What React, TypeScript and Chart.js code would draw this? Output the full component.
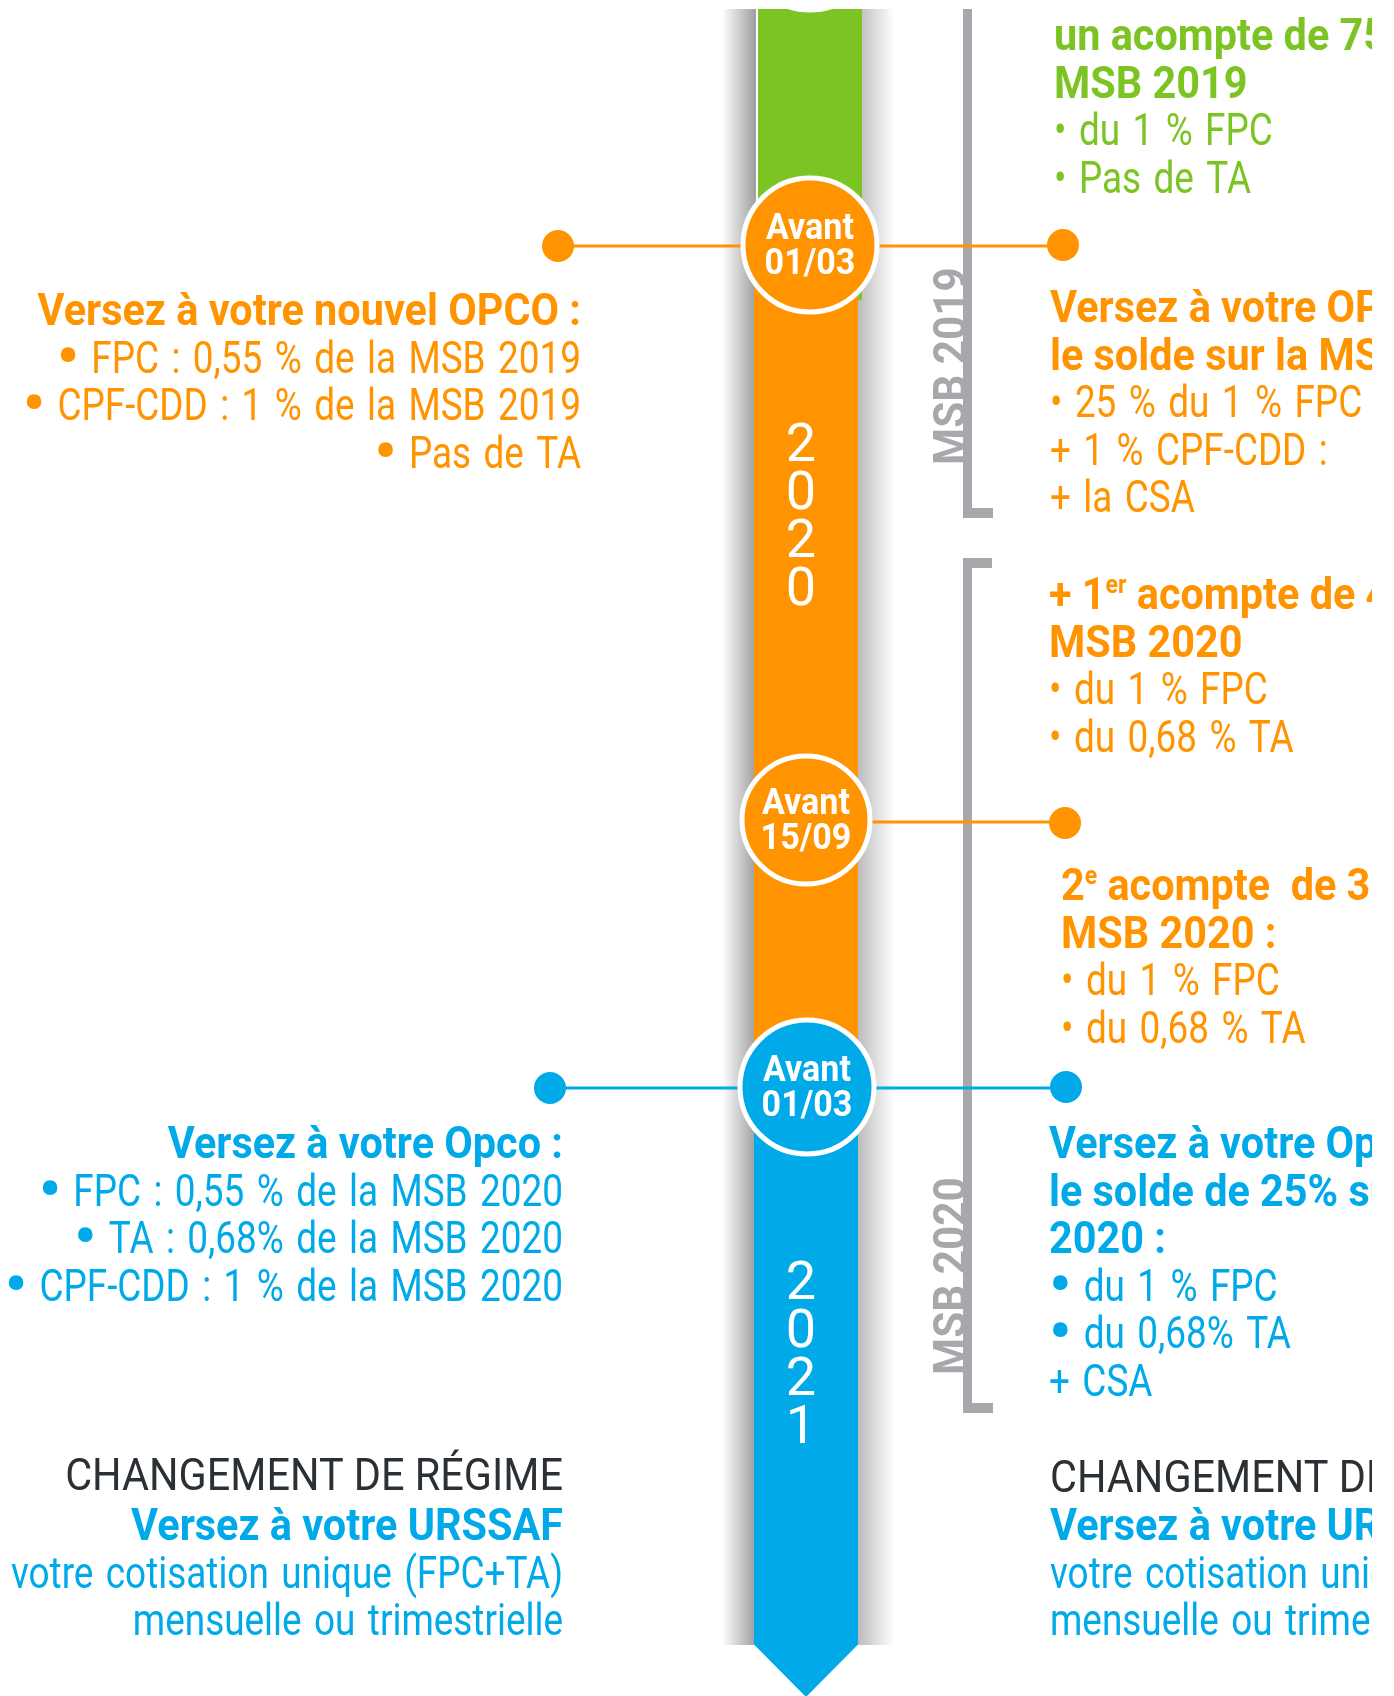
import React, { useEffect, useRef } from "react";
import { Chart, registerables } from "chart.js";

Chart.register(...registerables);

const W = 1394;
const H = 1696;

const GREEN = "#7CC423";
const ORANGE = "#FF9300";
const BLUE = "#00AAE9";
const GREY = "#A8A8AC";
const DARK = "#2B3035";

// Timeline markers (dates)
const markerTop = ["Avant", "Avant", "Avant"];
const markerBottom = ["01/03", "15/09", "01/03"];
const markerX = [810, 806, 807];
const markerY = [245, 820, 1087];
const markerColors = [ORANGE, ORANGE, BLUE];
const markerRadius = [67, 64, 67];

// End dots of the connectors
const dotX = [558, 1063, 1065, 550, 1066];
const dotY = [246, 245, 823, 1088, 1087];
const dotColors = [ORANGE, ORANGE, ORANGE, BLUE, BLUE];

// Connector lines
const connFromX = [558, 806, 550];
const connToX = [1063, 1065, 1066];
const connY = [246, 822, 1088];
const connColors = [ORANGE, ORANGE, BLUE];

// Timeline bar segments
const segStart = [9, 245, 1087];
const segEnd = [300, 1087, 1645];
const segLeft = [758, 754, 754];
const segRight = [862, 858, 858];
const segColors = [GREEN, ORANGE, BLUE];

// Year labels on the bar
const yearLabels = ["2020", "2021"];
const yearFirstDigitY = [441, 1279];

// MSB brackets
const bracketTop = [9, 558];
const bracketBottom = [518, 1413];
const bracketTopFoot = [false, true];
const bracketLabels = ["MSB 2019", "MSB 2020"];
const bracketLabelY = [366, 1276];

// Text blocks: [text, style] style: r regular, c regular caps, b bold, s superscript, B big bullet
type Seg = [string, string];
const greenRightLines: Seg[][] = [
  [["un acompte de 75 % sur la", "b"]],
  [["MSB 2019", "b"]],
  [["• du 1 % FPC", "r"]],
  [["• Pas de TA", "r"]],
];
const orangeRight1Lines: Seg[][] = [
  [["Versez à votre OPCO :", "b"]],
  [["le solde sur la MSB 2019 :", "b"]],
  [["• 25 % du 1 % FPC", "r"]],
  [["+ 1 % CPF-CDD :", "r"]],
  [["+ la CSA", "r"]],
];
const orangeRight2Lines: Seg[][] = [
  [["+ 1", "b"], ["er", "s"], [" acompte de 40 % sur la", "b"]],
  [["MSB 2020", "b"]],
  [["• du 1 % FPC", "r"]],
  [["• du 0,68 % TA", "r"]],
];
const orangeRight3Lines: Seg[][] = [
  [["2", "b"], ["e", "s"], [" acompte  de 35 % sur la", "b"]],
  [["MSB 2020 :", "b"]],
  [["• du 1 % FPC", "r"]],
  [["• du 0,68 % TA", "r"]],
];
const blueRightLines: Seg[][] = [
  [["Versez à votre Opco :", "b"]],
  [["le solde de 25% sur la MSB", "b"]],
  [["2020 :", "b"]],
  [["•", "B"], [" du 1 % FPC", "r"]],
  [["•", "B"], [" du 0,68% TA", "r"]],
  [["+ CSA", "r"]],
];
const regimeLines: Seg[][] = [[["CHANGEMENT DE RÉGIME", "c"]]];
const urssafLines: Seg[][] = [
  [["Versez à votre URSSAF", "b"]],
  [["votre cotisation unique (FPC+TA)", "r"]],
  [["mensuelle ou trimestrielle", "r"]],
];
const orangeLeftLines: Seg[][] = [
  [["Versez à votre nouvel OPCO :", "b"]],
  [["•", "B"], [" FPC : 0,55 % de la MSB 2019", "r"]],
  [["•", "B"], [" CPF-CDD : 1 % de la MSB 2019", "r"]],
  [["•", "B"], [" Pas de TA", "r"]],
];
const blueLeftLines: Seg[][] = [
  [["Versez à votre Opco :", "b"]],
  [["•", "B"], [" FPC : 0,55 % de la MSB 2020", "r"]],
  [["•", "B"], [" TA : 0,68% de la MSB 2020", "r"]],
  [["•", "B"], [" CPF-CDD : 1 % de la MSB 2020", "r"]],
];

const blockLines = [
  greenRightLines, orangeRight1Lines, orangeRight2Lines, orangeRight3Lines, blueRightLines,
  regimeLines, urssafLines, orangeLeftLines, blueLeftLines, regimeLines, urssafLines,
];
const blockX = [1054, 1050, 1049, 1061, 1049, 1050, 1050, 581, 563, 563, 563];
const blockY = [50, 322, 609, 900, 1158, 1492, 1540, 325, 1158, 1490, 1540];
const blockAlign = ["left", "left", "left", "left", "left", "left", "left", "right", "right", "right", "right"];
const blockColors = [GREEN, ORANGE, ORANGE, ORANGE, BLUE, DARK, BLUE, ORANGE, BLUE, DARK, BLUE];

const FS = 45;
const LINE_GAP = 47.5;
const REG_SX = 0.82;
const CAPS_SX = 0.92;
const BOLD_SX = 0.92;
const RIGHT_CLIP = 1372;

function fontFor(style: string) {
  switch (style) {
    case "b":
      return { font: `700 ${FS}px Roboto`, sx: BOLD_SX, dy: 0, ws: "0px" };
    case "s":
      return { font: `700 25px Roboto`, sx: BOLD_SX, dy: -16, ws: "0px" };
    case "B":
      return { font: `700 62px Roboto`, sx: 1, dy: 4, ws: "0px" };
    case "c":
      return { font: `400 ${FS}px Roboto`, sx: CAPS_SX, dy: 0, ws: "0px" };
    default:
      return { font: `400 ${FS}px Roboto`, sx: REG_SX, dy: 0, ws: "4px" };
  }
}

function setFont(ctx: CanvasRenderingContext2D, f: { font: string; ws: string }) {
  ctx.font = f.font;
  if ("wordSpacing" in ctx) (ctx as any).wordSpacing = f.ws;
}

function drawSegs(ctx: CanvasRenderingContext2D, segs: Seg[], x: number, y: number, align: string, color: string) {
  const parts = segs.map(([t, s]) => {
    const f = fontFor(s);
    setFont(ctx, f);
    return { t, f, w: ctx.measureText(t).width * f.sx };
  });
  const total = parts.reduce((a, p) => a + p.w, 0);
  let cx = align === "right" ? x - total : x;
  ctx.fillStyle = color;
  ctx.textAlign = "left";
  ctx.textBaseline = "alphabetic";
  for (const p of parts) {
    ctx.save();
    setFont(ctx, p.f);
    ctx.translate(cx, y + p.f.dy);
    ctx.scale(p.f.sx, 1);
    ctx.fillText(p.t, 0, 0);
    ctx.restore();
    cx += p.w;
  }
  if ("wordSpacing" in ctx) (ctx as any).wordSpacing = "0px";
}

const backgroundPlugin = {
  id: "timelineBackground",
  beforeDatasetsDraw(chart: any) {
    const ctx: CanvasRenderingContext2D = chart.ctx;
    const xs = chart.scales.x;
    const ys = chart.scales.y;
    const px = (v: number) => xs.getPixelForValue(v);
    const py = (v: number) => ys.getPixelForValue(v);
    ctx.save();

    // soft shadow beside the bar
    const top = py(segStart[0]);
    const bot = py(segEnd[segEnd.length - 1]);
    let g = ctx.createLinearGradient(px(722), 0, px(756), 0);
    g.addColorStop(0, "rgba(0,0,0,0)");
    g.addColorStop(1, "rgba(0,0,0,0.38)");
    ctx.fillStyle = g;
    ctx.fillRect(px(722), top, px(756) - px(722), bot - top);
    g = ctx.createLinearGradient(px(856), 0, px(894), 0);
    g.addColorStop(0, "rgba(0,0,0,0.28)");
    g.addColorStop(1, "rgba(0,0,0,0)");
    ctx.fillStyle = g;
    ctx.fillRect(px(856), top, px(894) - px(856), bot - top);

    // bar segments
    for (let i = 0; i < segStart.length; i++) {
      ctx.fillStyle = segColors[i];
      ctx.fillRect(px(segLeft[i]), py(segStart[i]), px(segRight[i]) - px(segLeft[i]), py(segEnd[i]) - py(segStart[i]));
    }
    // arrow head
    const last = segStart.length - 1;
    ctx.fillStyle = segColors[last];
    ctx.beginPath();
    ctx.moveTo(px(segLeft[last]), py(segEnd[last]) - 0.5);
    ctx.lineTo(px(segRight[last]), py(segEnd[last]) - 0.5);
    ctx.lineTo(px((segLeft[last] + segRight[last]) / 2), py(H + 1));
    ctx.closePath();
    ctx.fill();

    // previous marker peeking at the top
    ctx.save();
    ctx.beginPath();
    ctx.rect(0, py(segStart[0]), W, 40);
    ctx.clip();
    ctx.beginPath();
    ctx.arc(px(810), py(-57), 67, 0, Math.PI * 2);
    ctx.fillStyle = GREEN;
    ctx.fill();
    ctx.lineWidth = 5;
    ctx.strokeStyle = "#fff";
    ctx.stroke();
    ctx.restore();

    // years
    ctx.fillStyle = "#fff";
    ctx.font = "400 54px Roboto";
    ctx.textAlign = "center";
    ctx.textBaseline = "alphabetic";
    yearLabels.forEach((yl, i) => {
      yl.split("").forEach((d, k) => {
        ctx.fillText(d, px(801), py(yearFirstDigitY[i] + k * 48) + 20);
      });
    });

    // brackets with labels
    for (let i = 0; i < bracketTop.length; i++) {
      ctx.save();
      ctx.translate(px(966), py(bracketLabelY[i]));
      ctx.rotate(-Math.PI / 2);
      ctx.scale(0.92, 1);
      ctx.font = "700 46px Roboto";
      ctx.fillStyle = GREY;
      ctx.textAlign = "center";
      ctx.textBaseline = "alphabetic";
      ctx.fillText(bracketLabels[i], 0, 0);
      ctx.restore();

      ctx.fillStyle = GREY;
      ctx.fillRect(px(963), py(bracketTop[i]), 9, py(bracketBottom[i]) - py(bracketTop[i]));
      ctx.fillRect(px(963), py(bracketBottom[i]) - 10, px(993) - px(963), 10);
      if (bracketTopFoot[i]) ctx.fillRect(px(963), py(bracketTop[i]), px(992) - px(963), 10);
    }
    ctx.restore();
  },
};

const textPlugin = {
  id: "timelineText",
  afterDatasetsDraw(chart: any) {
    const ctx: CanvasRenderingContext2D = chart.ctx;
    const xs = chart.scales.x;
    const ys = chart.scales.y;
    const px = (v: number) => xs.getPixelForValue(v);
    const py = (v: number) => ys.getPixelForValue(v);
    ctx.save();
    // marker labels
    ctx.fillStyle = "#fff";
    ctx.textAlign = "center";
    ctx.textBaseline = "alphabetic";
    for (let i = 0; i < markerX.length; i++) {
      for (const [t, dy] of [[markerTop[i], -6], [markerBottom[i], 29]] as [string, number][]) {
        ctx.save();
        ctx.font = "700 37px Roboto";
        ctx.translate(px(markerX[i]), py(markerY[i]) + dy);
        ctx.scale(0.92, 1);
        ctx.fillText(t, 0, 0);
        ctx.restore();
      }
    }
    // text blocks
    for (let b = 0; b < blockLines.length; b++) {
      ctx.save();
      if (blockAlign[b] === "left") {
        ctx.beginPath();
        ctx.rect(0, 0, px(RIGHT_CLIP), H);
        ctx.clip();
      }
      blockLines[b].forEach((segs, k) => {
        drawSegs(ctx, segs, px(blockX[b]), py(blockY[b] + k * LINE_GAP), blockAlign[b], blockColors[b]);
      });
      ctx.restore();
    }
    ctx.restore();
  },
};

export default function App() {
  const ref = useRef<HTMLCanvasElement | null>(null);
  useEffect(() => {
    document.body.style.margin = "0";
    const canvas = ref.current!;
    const chart = new Chart(canvas, {
      type: "scatter",
      data: {
        datasets: [
          {
            label: "dates",
            data: markerX.map((x, i) => ({ x, y: markerY[i] })),
            pointRadius: markerRadius,
            pointHoverRadius: markerRadius,
            pointBackgroundColor: markerColors,
            pointBorderColor: "#ffffff",
            pointBorderWidth: 5,
            order: 0,
          } as any,
          {
            label: "dots",
            data: dotX.map((x, i) => ({ x, y: dotY[i] })),
            pointRadius: 16,
            pointHoverRadius: 16,
            pointBackgroundColor: dotColors,
            pointBorderWidth: 0,
            order: 1,
          } as any,
          ...connFromX.map((fx, i) => ({
            type: "line",
            label: "conn" + i,
            data: [
              { x: fx, y: connY[i] },
              { x: connToX[i], y: connY[i] },
            ],
            borderColor: connColors[i],
            borderWidth: 3,
            pointRadius: 0,
            showLine: true,
            order: 2,
          })) as any[],
        ],
      },
      options: {
        animation: false,
        responsive: false,
        devicePixelRatio: 1,
        events: [],
        layout: { padding: 0, autoPadding: false },
        plugins: { legend: { display: false }, tooltip: { enabled: false } },
        scales: {
          x: { type: "linear", min: 0, max: W, display: false },
          y: { type: "linear", min: 0, max: H, reverse: true, display: false },
        },
      },
      plugins: [backgroundPlugin, textPlugin],
    } as any);
    return () => chart.destroy();
  }, []);
  return (
    <div style={{ position: "absolute", left: 0, top: 0, width: W, height: H, background: "#fff" }}>
      <canvas ref={ref} width={W} height={H} style={{ display: "block" }} />
    </div>
  );
}
